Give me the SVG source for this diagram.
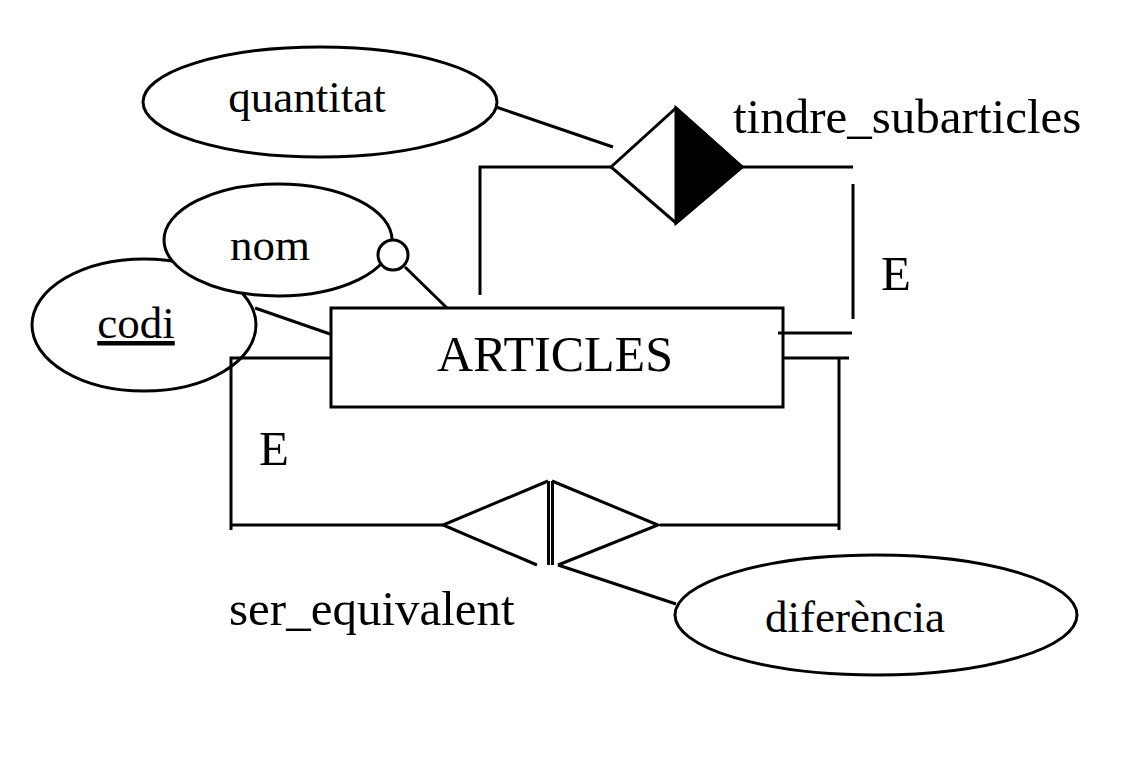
<svg xmlns="http://www.w3.org/2000/svg" width="1136" height="760" viewBox="0 0 1136 760">
<style>
.s{fill:none;stroke:#000;stroke-width:3;stroke-linecap:butt}
.w{fill:#fff;stroke:#000;stroke-width:3}
.t{font-family:"Liberation Serif","Times New Roman",serif;fill:#000}
.a{font-size:45px}
.b{font-size:49px}
</style>
<rect width="1136" height="760" fill="#fff"/>
<g id="quantitat">
<ellipse class="w" cx="320" cy="102" rx="177" ry="55"/>
<text class="t a" x="307" y="112" text-anchor="middle">quantitat</text>
</g>
<g id="codi">
<ellipse class="w" cx="144" cy="325" rx="112" ry="66"/>
<text class="t a" x="136" y="338" text-anchor="middle" text-decoration="underline">codi</text>
</g>
<g id="nom">
<ellipse class="w" cx="278" cy="240" rx="114" ry="56"/>
<text class="t a" x="270" y="260" text-anchor="middle">nom</text>
<circle class="w" cx="393" cy="255" r="15"/>
</g>
<g id="articles">
<rect class="w" x="331" y="308" width="452" height="99"/>
<text class="t" font-size="50" x="555" y="371" text-anchor="middle">ARTICLES</text>
</g>
<g id="tindre_subarticles">
<polygon class="w" points="611,167 676,108 742,167 676,223"/>
<polygon points="676,108 742,167 676,223" fill="#000" stroke="#000" stroke-width="3" stroke-linejoin="miter"/>
<text class="t b" x="733" y="133">tindre_subarticles</text>
<text class="t b" x="881" y="290">E</text>
</g>
<g id="ser_equivalent">
<polyline class="s" points="537,565 443,525 548,481"/>
<polyline class="s" points="552,481 658,525 558,565"/>
<line class="s" x1="548.5" y1="481" x2="548.5" y2="565"/>
<line class="s" x1="552.5" y1="481" x2="552.5" y2="565"/>
<text class="t b" x="229" y="625">ser_equivalent</text>
<text class="t b" x="259" y="465">E</text>
</g>
<g id="diferencia">
<ellipse class="w" cx="876" cy="615" rx="201" ry="60"/>
<text class="t a" x="855" y="632" text-anchor="middle">diferència</text>
</g>
<g id="connectors">
<line class="s" x1="496" y1="107" x2="613" y2="147"/>
<polyline class="s" points="480,295 480,167 611,167"/>
<line class="s" x1="742" y1="167" x2="853" y2="167"/>
<line class="s" x1="853" y1="184" x2="853" y2="319"/>
<line class="s" x1="778" y1="333" x2="852" y2="333"/>
<line class="s" x1="405" y1="267" x2="447" y2="308"/>
<line class="s" x1="255" y1="308" x2="330" y2="334"/>
<polyline class="s" points="331,358 231,358 231,530"/>
<line class="s" x1="231" y1="525" x2="443" y2="525"/>
<line class="s" x1="783" y1="358" x2="849" y2="358"/>
<line class="s" x1="839" y1="358" x2="839" y2="530"/>
<line class="s" x1="660" y1="525" x2="839" y2="525"/>
<line class="s" x1="558" y1="565" x2="676" y2="604"/>
</g>
</svg>
